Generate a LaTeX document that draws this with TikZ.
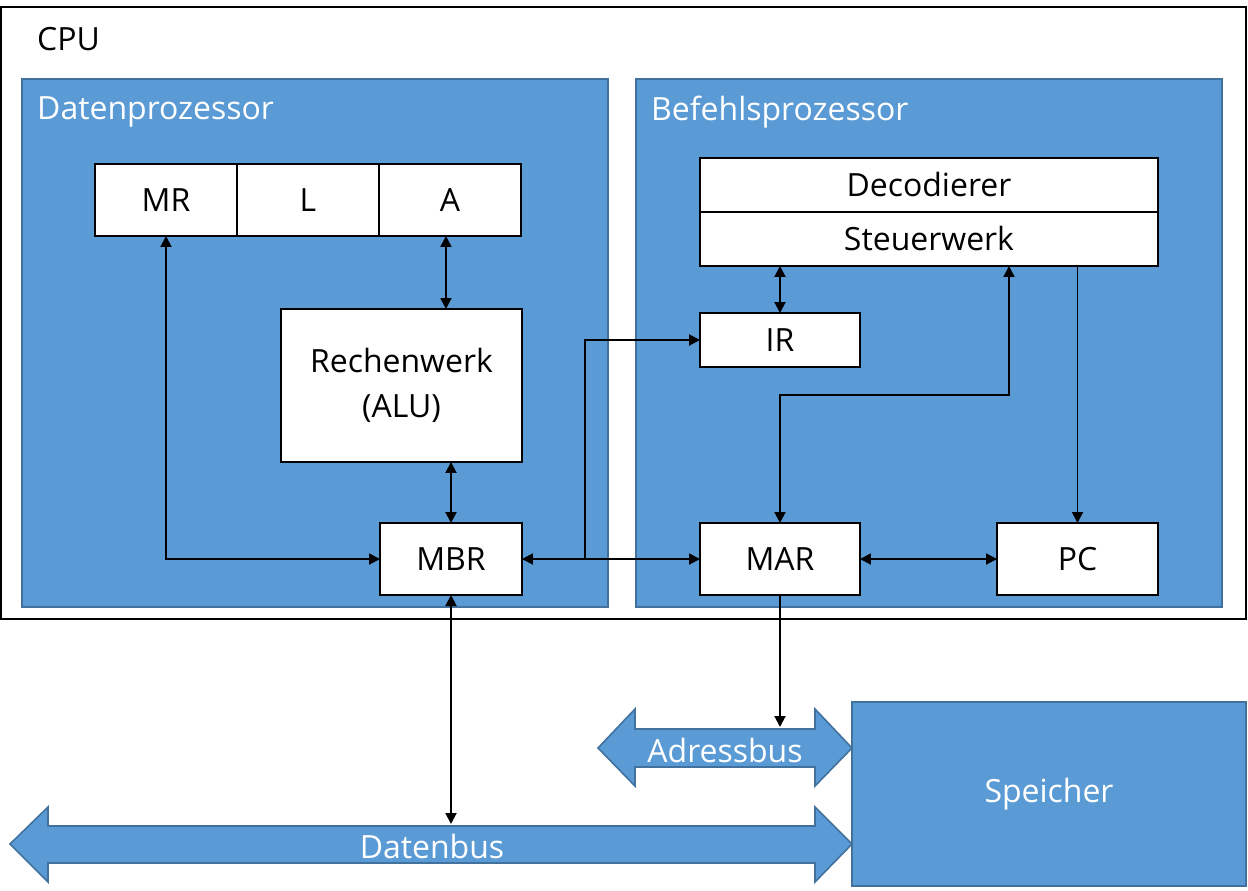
\documentclass[tikz,border=0pt]{standalone}
\usepackage{fontspec}
\setmainfont{Open Sans}
\usepackage{xcolor}
\usetikzlibrary{arrows.meta, positioning, calc}
\definecolor{procblue}{HTML}{5B9BD5}
\definecolor{procedge}{HTML}{41719C}
\tikzset{
  lbl/.style={font=\fontsize{18.2}{26}\selectfont},
  cpubox/.style={
    rectangle, draw=black, line width=1.3pt,
    minimum width=24.9cm, minimum height=12.24cm
  },
  procbox/.style={
    rectangle, draw=procedge, fill=procblue, line width=0.9pt,
    minimum width=11.72cm, minimum height=10.56cm
  },
  regbox/.style={
    rectangle, draw=black, fill=white, line width=1.2pt, outer sep=0pt,
    minimum width=2.84cm, minimum height=1.44cm, lbl
  },
  widebox/.style={
    rectangle, draw=black, fill=white, line width=1.2pt, outer sep=0pt,
    minimum width=9.16cm, minimum height=1.08cm, lbl
  },
  membox/.style={
    rectangle, draw=procedge, fill=procblue, line width=0.9pt,
    minimum width=7.88cm, minimum height=3.68cm, text=white, lbl
  },
  ttl/.style={anchor=west, lbl},
  bus/.style={draw=procedge, fill=procblue, line width=0.9pt},
  arr/.style={-{Triangle[length=0.22cm,width=0.22cm]}, line width=1.1pt},
  darr/.style={{Triangle[length=0.22cm,width=0.22cm]}-{Triangle[length=0.22cm,width=0.22cm]}, line width=1.1pt}
}

\begin{document}
\begin{tikzpicture}[x=0.02cm, y=-0.02cm]
\useasboundingbox (0,0) rectangle (1248,890);

% CPU frame
\node[cpubox] (cpu) at (623.5,313) {};
\node[ttl] at (31,39) {CPU};

% Processors
\node[procbox] (dp) at (315,343) {};
\node[procbox] (bp) at (929,343) {};
\node[ttl, text=white] at (31,112) {Datenprozessor};
\node[ttl, text=white] at (645,112) {Befehlsprozessor};

% Datenprozessor units
\node[regbox] (mr) at (166,200) {MR};
\node[regbox, right=0pt of mr] (l) {L};
\node[regbox, right=0pt of l]  (a) {A};
\node[regbox, minimum width=4.82cm, minimum height=3.06cm, align=center]
  (alu) at (401.5,385.5) {Rechenwerk\\(ALU)};
\node[regbox] (mbr) at (451,559) {MBR};

% Befehlsprozessor units
\node[widebox] (dec) at (929,185) {Decodierer};
\node[widebox, below=0pt of dec] (stw) {Steuerwerk};
\node[regbox, minimum width=3.2cm, minimum height=1.08cm] (ir) at (780,340) {IR};
\node[regbox, minimum width=3.2cm] (mar) at (780,559) {MAR};
\node[regbox, minimum width=3.22cm] (pc) at (1077.5,559) {PC};

% Memory and buses
\node[membox] (mem) at (1049,794) {Speicher};
\draw[bus] (598,748) -- (635,709) -- (635,729) -- (815,729) -- (815,709)
  -- (852,748) -- (815,786) -- (815,767) -- (635,767) -- (635,786) -- cycle;
\draw[bus] (10,844) -- (48,807) -- (48,826) -- (815,826) -- (815,807)
  -- (852,844) -- (815,882) -- (815,863) -- (48,863) -- (48,882) -- cycle;
\node[lbl, text=white] (abus) at (725,750) {Adressbus};
\node[lbl, text=white] (dbus) at (432,846) {Datenbus};
\coordinate (abtop) at (781,727);
\coordinate (dbtop) at (452,824);

% Connectors
\draw[darr] (mr.south) |- (mbr.west);
\draw[darr] ([xshift=-0.08cm]a.south) -- ([xshift=-0.08cm]a.south |- alu.north);
\draw[darr] (mbr.north |- alu.south) -- (mbr.north);
\draw[darr] (mbr.south) -- (mbr.south |- dbtop);
\draw[darr] (mbr.east) -- (mar.west);
\draw[arr] ([xshift=1.26cm]mbr.east) |- (ir.west);
\draw[darr] (stw.south -| ir.north) -- (ir.north);
\draw[darr] ([xshift=1.6cm]stw.south) -- ++(0,129) -| (mar.north);
\draw[arr] (stw.south -| pc.north) -- (pc.north);
\draw[darr] (mar.east) -- (pc.west);
\draw[arr] (mar.south) -- (mar.south |- abtop);

\end{tikzpicture}
\end{document}
